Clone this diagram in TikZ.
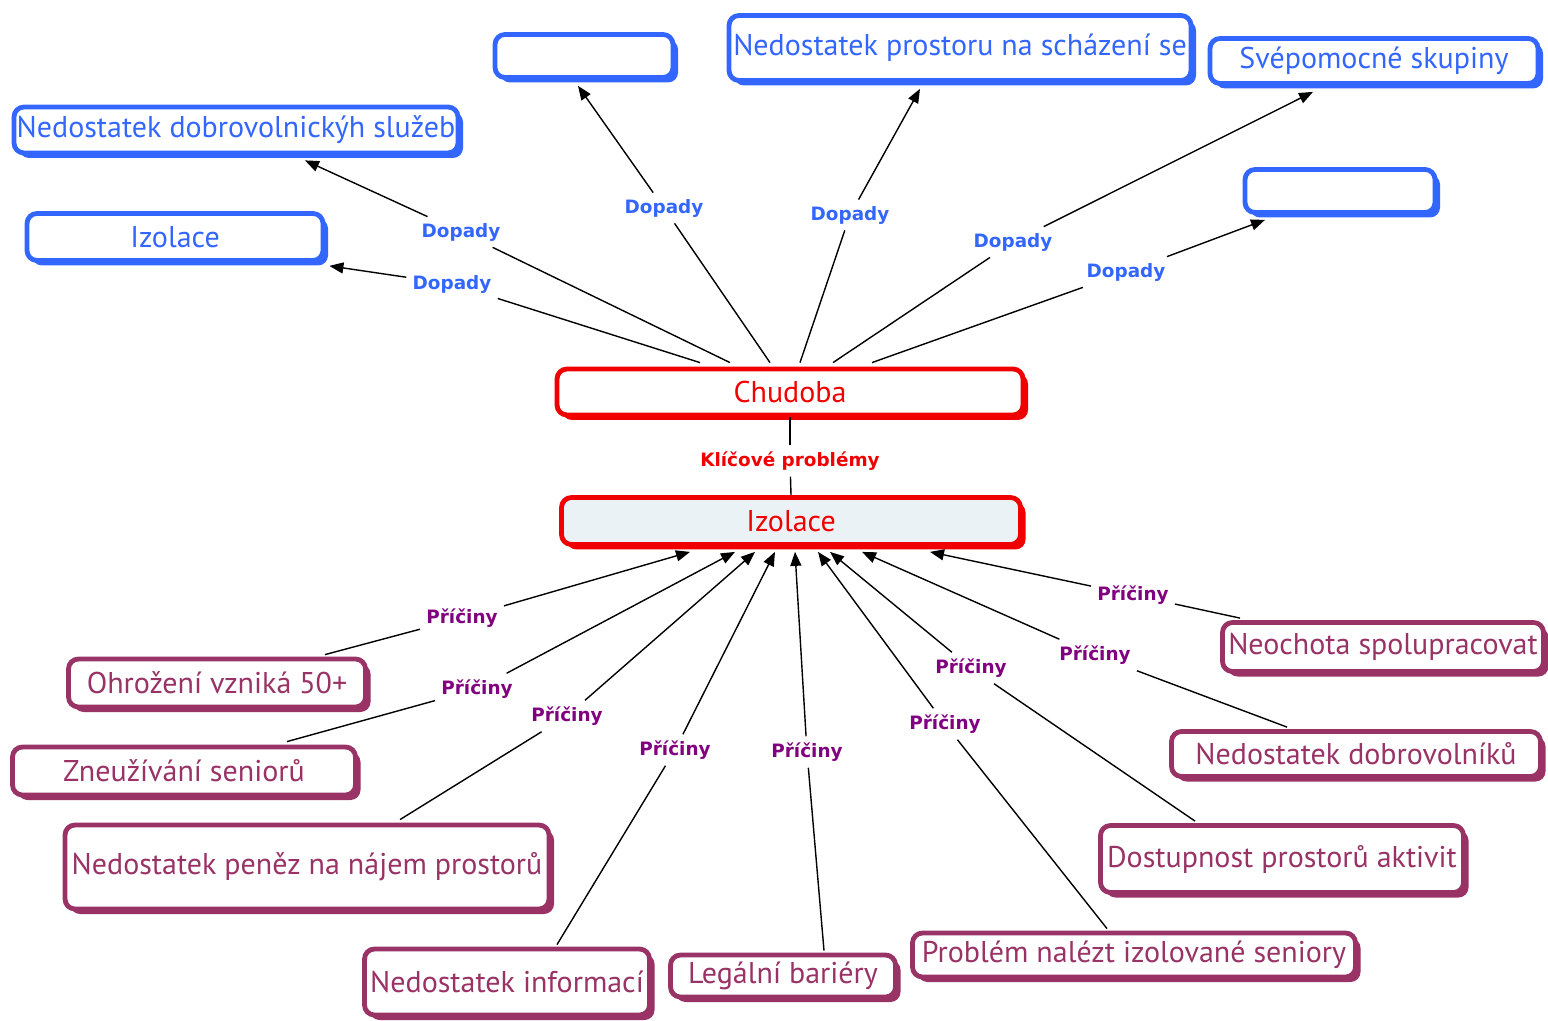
\documentclass[tikz,border=0pt]{standalone}
\usepackage{fontspec}
\setmainfont{PT Sans}
\newfontfamily\labelfont{DejaVu Sans}
\usetikzlibrary{positioning,calc,shadows,arrows.meta}

\definecolor{dopblue}{RGB}{51,102,255}
\definecolor{probred}{RGB}{240,0,0}
\definecolor{pricbox}{RGB}{153,51,102}
\definecolor{priclab}{RGB}{128,0,128}
\definecolor{izfill}{RGB}{235,242,245}

\begin{document}
\begin{tikzpicture}[
      x=0.5pt, y=-0.5pt,
      box/.style={
        draw,
        line width=2.4pt,
        rounded corners=5pt,
        fill=white,
        inner xsep=1pt, inner ysep=2pt,
        font=\fontsize{15}{17}\selectfont
      },
      dopad/.style={
        box,
        draw=dopblue, text=dopblue,
        drop shadow={shadow xshift=2.5pt, shadow yshift=-2.5pt, fill=dopblue, opacity=1}
      },
      problem/.style={
        box,
        draw=probred, text=probred,
        drop shadow={shadow xshift=2.5pt, shadow yshift=-2.5pt, fill=probred, opacity=1}
      },
      pricina/.style={
        box,
        draw=pricbox, text=pricbox,
        drop shadow={shadow xshift=2.5pt, shadow yshift=-2.5pt, fill=pricbox, opacity=1}
      },
      popis/.style={
        inner sep=3pt,
        font=\labelfont\bfseries\fontsize{9.2}{10}\selectfont
      },
      con/.style={
        line width=0.7pt
      },
      arr/.style={
        con,
        -{Triangle[length=7pt,width=5.5pt]}
      }
    ]
    \useasboundingbox (0,0) rectangle (1548,1021);

    % klicove problemy
    \node[problem, minimum width=233pt, minimum height=23pt] (ch) at (790,392) {Chudoba};
    \node[problem, fill=izfill, minimum width=229.5pt, minimum height=23.5pt] (iz) at (791,521) {Izolace};

    % dopady
    \node[dopad, minimum width=222pt, minimum height=23pt] (d1) at (236,130) {Nedostatek dobrovolnickýh služeb};
    \node[dopad, minimum width=148pt, minimum height=23.5pt] (d2) at (175,237) {Izolace};
    \node[dopad, minimum width=89pt, minimum height=21.5pt] (d3) at (584,56) {};
    \node[dopad, minimum width=231pt, minimum height=32.5pt] (d4) at (960,48) {Nedostatek prostoru na scházení se};
    \node[dopad, minimum width=164pt, minimum height=22.5pt] (d5) at (1374,61) {Svépomocné skupiny};
    \node[dopad, minimum width=95pt, minimum height=21.5pt] (d6) at (1340,191) {};

    % priciny
    \node[pricina, minimum width=148.5pt, minimum height=24pt] (p1) at (217,683) {Ohrožení vzniká 50+};
    \node[pricina, minimum width=171.5pt, minimum height=24pt] (p2) at (184,771) {Zneužívání seniorů};
    \node[pricina, minimum width=242pt, minimum height=42pt] (p3) at (307,867) {Nedostatek peněz na nájem prostorů};
    \node[pricina, minimum width=142.5pt, minimum height=33pt] (p4) at (507,982) {Nedostatek informací};
    \node[pricina, minimum width=112.5pt, minimum height=21pt] (p5) at (783,976) {Legální bariéry};
    \node[pricina, minimum width=221.5pt, minimum height=22pt] (p6) at (1134,955) {Problém nalézt izolované seniory};
    \node[pricina, minimum width=181.5pt, minimum height=33.5pt] (p7) at (1282,859) {Dostupnost prostorů aktivit};
    \node[pricina, minimum width=184.5pt, minimum height=22.5pt] (p8) at (1356,754) {Nedostatek dobrovolníků};
    \node[pricina, minimum width=160.5pt, minimum height=24.5pt] (p9) at (1383,647) {Neochota spolupracovat};

    % popisky
    \node[popis, text=probred] (k) at (790,461) {Klíčové problémy};

    \node[popis, text=dopblue] (l1) at (461,232) {Dopady};
    \node[popis, text=dopblue] (l2) at (452,284) {Dopady};
    \node[popis, text=dopblue] (l3) at (664,208) {Dopady};
    \node[popis, text=dopblue] (l4) at (850,215) {Dopady};
    \node[popis, text=dopblue] (l5) at (1013,242) {Dopady};
    \node[popis, text=dopblue] (l6) at (1126,272) {Dopady};

    \node[popis, text=priclab] (q1) at (462,618) {Příčiny};
    \node[popis, text=priclab] (q2) at (477,689) {Příčiny};
    \node[popis, text=priclab] (q3) at (567,716) {Příčiny};
    \node[popis, text=priclab] (q4) at (675,750) {Příčiny};
    \node[popis, text=priclab] (q5) at (807,752) {Příčiny};
    \node[popis, text=priclab] (q6) at (945,724) {Příčiny};
    \node[popis, text=priclab] (q7) at (971,668) {Příčiny};
    \node[popis, text=priclab] (q8) at (1095,655) {Příčiny};
    \node[popis, text=priclab] (q9) at (1133,595) {Příčiny};

    \path
       (ch.south) edge[con] (k)
       (k) edge[con] (iz.north) ;

    \path
       ($(ch.north)+(-90,-4)$) edge[con] (l2)
       (l2) edge[arr] ($(d2.south east)+(4,3)$)
       ($(ch.north)+(-60,-4)$) edge[con] (l1)
       (l1) edge[arr] ($(d1.south)+(69,5)$)
       ($(ch.north)+(-20,-4)$) edge[con] (l3)
       (l3) edge[arr] ($(d3.south)+(-6,6)$)
       ($(ch.north)+(10,-4)$) edge[con] (l4)
       (l4) edge[arr] ($(d4.south)+(-40,6)$)
       ($(ch.north)+(43,-4)$) edge[con] (l5)
       (l5) edge[arr] ($(d5.south)+(-61,6)$)
       ($(ch.north)+(82,-4)$) edge[con] (l6)
       (l6) edge[arr] ($(d6.south)+(-75,5)$) ;

    \path
       ($(p1.north)+(108,-2)$) edge[con] (q1)
       (q1) edge[arr] ($(iz.south)+(-101,5)$)
       ($(p2.north)+(103,-3)$) edge[con] (q2)
       (q2) edge[arr] ($(iz.south)+(-56,5)$)
       ($(p3.north)+(93,-3)$) edge[con] (q3)
       (q3) edge[arr] ($(iz.south)+(-36,5)$)
       ($(p4.north)+(50,-2)$) edge[con] (q4)
       (q4) edge[arr] ($(iz.south)+(-16,5)$)
       ($(p5.north)+(41,-2)$) edge[con] (q5)
       (q5) edge[arr] ($(iz.south)+(4,5)$)
       ($(p6.north)+(-27,-2)$) edge[con] (q6)
       (q6) edge[arr] ($(iz.south)+(27,5)$)
       ($(p7.north)+(-87,-2)$) edge[con] (q7)
       (q7) edge[arr] ($(iz.south)+(39,5)$)
       ($(p8.north)+(-69,-2)$) edge[con] (q8)
       (q8) edge[arr] ($(iz.south)+(71,5)$)
       ($(p9.north)+(-143,-2)$) edge[con] (q9)
       (q9) edge[arr] ($(iz.south)+(139,5)$) ;
  \end{tikzpicture}
\end{document}
